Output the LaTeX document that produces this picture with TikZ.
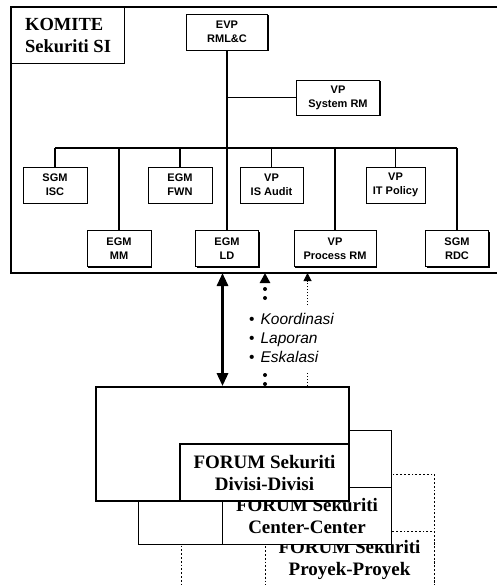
\documentclass[tikz,border=0pt]{standalone}
\usepackage{fontspec}
\setmainfont{Liberation Serif}
\setsansfont{Liberation Sans}
\usetikzlibrary{positioning, arrows.meta, shadows}
\pgfdeclarelayer{background}
\pgfsetlayers{background,main}

\begin{document}
\begin{tikzpicture}[x=1pt, y=-1pt, >={Triangle[length=13pt,width=11pt]},
    unit/.style={draw, fill=white, line width=0.9pt, minimum width=64pt, minimum height=36pt,
      inner sep=1pt, align=center, font=\sffamily\bfseries\fontsize{11}{14}\selectfont,
      drop shadow={shadow xshift=1.2pt, shadow yshift=-1.2pt, fill=black, opacity=1}},
    forum/.style={draw, fill=white, line width=1.8pt, minimum width=253pt, minimum height=114pt},
    forumlbl/.style={draw, fill=white, line width=1.8pt, minimum width=169pt, minimum height=57pt,
      inner sep=0pt, align=center, font=\bfseries\fontsize{19}{22}\selectfont},
    link/.style={line width=1.1pt},
    bigdots/.style={line width=4pt, line cap=round, dash pattern=on 0pt off 9pt}]
  \useasboundingbox (0,0) rectangle (497,585);

  % komite frame
  \draw[line width=1.3pt] (497,7) -- (11,7) -- (11,273) -- (497,273);
  \node[draw, fill=white, line width=1.1pt, anchor=north west, minimum width=113pt,
        minimum height=56pt, align=left, font=\bfseries\fontsize{18.5}{22}\selectfont]
        (komite) at (11,7) {KOMITE\\Sekuriti SI};
  \coordinate (framebot) at (0,273);
  \coordinate (bus) at (227,148);

  % units
  \node[unit, minimum width=81pt] (evp) at (227,32) {EVP\\RML\&C};
  \node[unit, minimum width=83pt, minimum height=35pt] (sysrm) at (338,97.5) {VP\\System RM};
  \node[unit] (isc) at (55,185) {SGM\\ISC};
  \node[unit] (fwn) at (180,185) {EGM\\FWN};
  \node[unit, minimum width=63pt] (isaudit) at (271.5,185) {VP\\IS Audit};
  \node[unit, minimum width=59pt] (itpol) at (395.5,185) {VP\\IT Policy};
  \node[unit] (mm) at (119,248.5) {EGM\\MM};
  \node[unit, minimum width=63pt] (ld) at (227,248.5) {EGM\\LD};
  \node[unit, minimum width=82pt] (procrm) at (335,248.5) {VP\\Process RM};
  \node[unit, minimum width=63pt] (rdc) at (457,248.5) {SGM\\RDC};

  % evp -> units
  \draw[link] (evp) -- (ld);
  \draw[link] (evp.south |- sysrm) -- (sysrm);
  \draw[link] (isc.north |- bus) -- (rdc.north |- bus);
  \foreach \n in {isc, fwn, isaudit, itpol, mm, procrm, rdc}
    \draw[link] (\n.north |- bus) -- (\n);

  % forums, back to front
  \node[forum, dotted, line width=0.9pt] (forumpro) at (307.5,531) {};
  \node[forumlbl, dotted, line width=0.9pt, anchor=south east] (forumprolbl)
        at (forumpro.south east) {FORUM Sekuriti\\Proyek-Proyek};
  \node[forum] (forumctr) at (265,487.5) {};
  \node[forumlbl, anchor=south east] (forumctrlbl)
        at (forumctr.south east) {FORUM Sekuriti\\Center-Center};
  \node[forum] (forumdiv) at (222.5,444) {};
  \node[forumlbl, anchor=south east] (forumdivlbl)
        at (forumdiv.south east) {FORUM Sekuriti\\Divisi-Divisi};

  \node[anchor=west, align=left, inner sep=0pt, font=\sffamily\itshape\fontsize{15.5}{19}\selectfont]
        (topics) at (249,338)
        {\textup{\textbullet}\hspace{6pt}Koordinasi\\ \textup{\textbullet}\hspace{6pt}Laporan\\
         \textup{\textbullet}\hspace{6pt}Eskalasi};

  % komite <-> forums
  \begin{pgfonlayer}{background}
    \draw[<->, line width=3pt] (forumdiv.north |- framebot) -- (forumdiv.north);
    \draw[-{Triangle[length=10pt,width=10pt]}, bigdots] (forumctr.north |- 0,298)
          -- (forumctr.north |- framebot);
    \draw[bigdots] (forumctr.north |- 0,375) -- (forumctr.north);
    \draw[-{Triangle[length=8pt,width=8pt]}, dotted, line width=1pt] (forumpro.north |- 0,305)
          -- (forumpro.north |- framebot);
    \draw[dotted, line width=1pt] (forumpro.north |- 0,373) -- (forumpro.north);
  \end{pgfonlayer}
\end{tikzpicture}
\end{document}
